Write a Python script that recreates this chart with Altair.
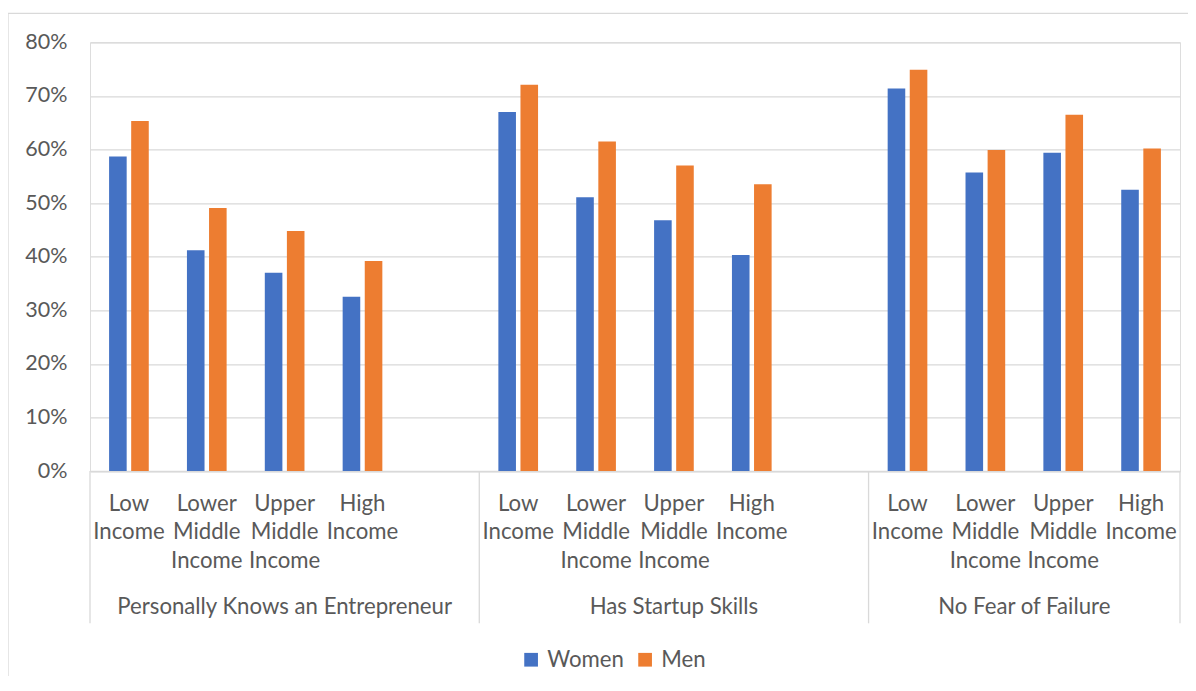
import altair as alt
import pandas as pd

groups = ["Personally Knows an Entrepreneur", "Has Startup Skills", "No Fear of Failure"]
levels = ["Low Income", "Lower Middle Income", "Upper Middle Income", "High Income"]
level_labels = ["Low\nIncome", "Lower\nMiddle\nIncome", "Upper\nMiddle\nIncome", "High\nIncome"]
genders = ["Women", "Men"]
women = [
    [0.587, 0.412, 0.370, 0.325],
    [0.670, 0.511, 0.468, 0.403],
    [0.714, 0.557, 0.594, 0.525],
]
men = [
    [0.653, 0.491, 0.448, 0.392],
    [0.721, 0.615, 0.570, 0.535],
    [0.749, 0.599, 0.665, 0.602],
]
colors = ["#4472C4", "#ED7D31"]
FONT = "Lato"
FS = 22.2
TXT = "#595959"
GRID = "#d9d9d9"

# slot domain: 5 slots for first two groups (last one blank), 4 for last
slots = []
slot_label = {}
for gi, g in enumerate(groups):
    for li, lv in enumerate(levels):
        sid = f"{gi}|{lv}"
        slots.append(sid)
        slot_label[sid] = level_labels[li]
    if gi < len(groups) - 1:
        slots.append(f"{gi}|blank")

rows = []
for gi, g in enumerate(groups):
    for li, lv in enumerate(levels):
        sid = f"{gi}|{lv}"
        rows.append({"slot": sid, "group": g, "level": lv, "gender": "Women", "value": women[gi][li]})
        rows.append({"slot": sid, "group": g, "level": lv, "gender": "Men", "value": men[gi][li]})
df = pd.DataFrame(rows)

xscale = alt.Scale(domain=slots, paddingInner=0, paddingOuter=0)
xenc = alt.X("slot:N", scale=xscale,
             axis=alt.Axis(labels=False, ticks=False, title=None, grid=False,
                           domain=True, domainColor=GRID, domainWidth=1.3))

bars = alt.Chart(df).mark_bar().encode(
    x=xenc,
    xOffset=alt.XOffset("gender:N", sort=genders,
                        scale=alt.Scale(domain=genders, paddingInner=0.204, paddingOuter=0.864)),
    y=alt.Y("value:Q", scale=alt.Scale(domain=[0, 0.8], nice=False),
            axis=alt.Axis(values=[0, 0.1, 0.2, 0.3, 0.4, 0.5, 0.6, 0.7, 0.8], format=".0%",
                          title=None, domain=False, ticks=False, labelPadding=23,
                          labelFont=FONT, labelFontSize=21.5, labelColor=TXT,
                          gridColor=GRID, gridWidth=1.3)),
    color=alt.Color("gender:N", sort=genders,
                    scale=alt.Scale(domain=genders, range=colors),
                    legend=alt.Legend(title=None, orient="none", direction="horizontal",
                                      legendX=430, legendY=606, symbolType="square",
                                      symbolSize=188, symbolStrokeWidth=0, labelFont=FONT,
                                      labelFontSize=FS, labelColor=TXT, labelOffset=5,
                                      columnPadding=10, padding=0)),
)

lab_df = pd.DataFrame({"slot": list(slot_label.keys()), "label": list(slot_label.values())})
slot_text = alt.Chart(lab_df).mark_text(
    font=FONT, fontSize=FS, color=TXT, align="center", baseline="alphabetic",
    lineBreak="\n", lineHeight=28.5
).encode(x=alt.X("slot:N", scale=xscale), y=alt.value(468.4), text="label:N")

grp_df_a = pd.DataFrame({"slot": [f"0|{levels[2]}", f"1|{levels[2]}"], "label": groups[:2]})
grp_df_b = pd.DataFrame({"slot": [f"2|{levels[2]}"], "label": groups[2:]})
grp_a = alt.Chart(grp_df_a).mark_text(
    font=FONT, fontSize=FS, color=TXT, align="center", baseline="alphabetic"
).encode(x=alt.X("slot:N", scale=xscale, bandPosition=0.5), y=alt.value(572), text="label:N")
grp_b = alt.Chart(grp_df_b).mark_text(
    font=FONT, fontSize=FS, color=TXT, align="center", baseline="alphabetic"
).encode(x=alt.X("slot:N", scale=xscale, bandPosition=0), y=alt.value(572), text="label:N")

sep_left = pd.DataFrame({"slot": [f"0|{levels[0]}", f"1|{levels[0]}", f"2|{levels[0]}"]})
sep_right = pd.DataFrame({"slot": [f"2|{levels[3]}"]})
rule_l = alt.Chart(sep_left).mark_rule(color=GRID, strokeWidth=1.3).encode(
    x=alt.X("slot:N", scale=xscale, bandPosition=0), y=alt.value(428.7), y2=alt.value(581))
rule_r = alt.Chart(sep_right).mark_rule(color=GRID, strokeWidth=1.3).encode(
    x=alt.X("slot:N", scale=xscale, bandPosition=1), y=alt.value(428.7), y2=alt.value(581))

border = alt.Chart(alt.Data(values=[{"a": 1}])).mark_rect(
    fillOpacity=0, stroke=GRID, strokeWidth=1.3
).encode(x=alt.value(-82), x2=alt.value(1200), y=alt.value(-29), y2=alt.value(700))

chart = alt.layer(border, bars, slot_text, grp_a, grp_b, rule_l, rule_r).properties(
    width=1090, height=428.7,
    autosize=alt.AutoSizeParams(type="none"),
    padding={"left": 82, "top": 34.3, "right": 8, "bottom": 205},
).configure_view(stroke=None).configure(background="white")

chart.save("out.html", embed_options={"renderer": "svg", "actions": False})
